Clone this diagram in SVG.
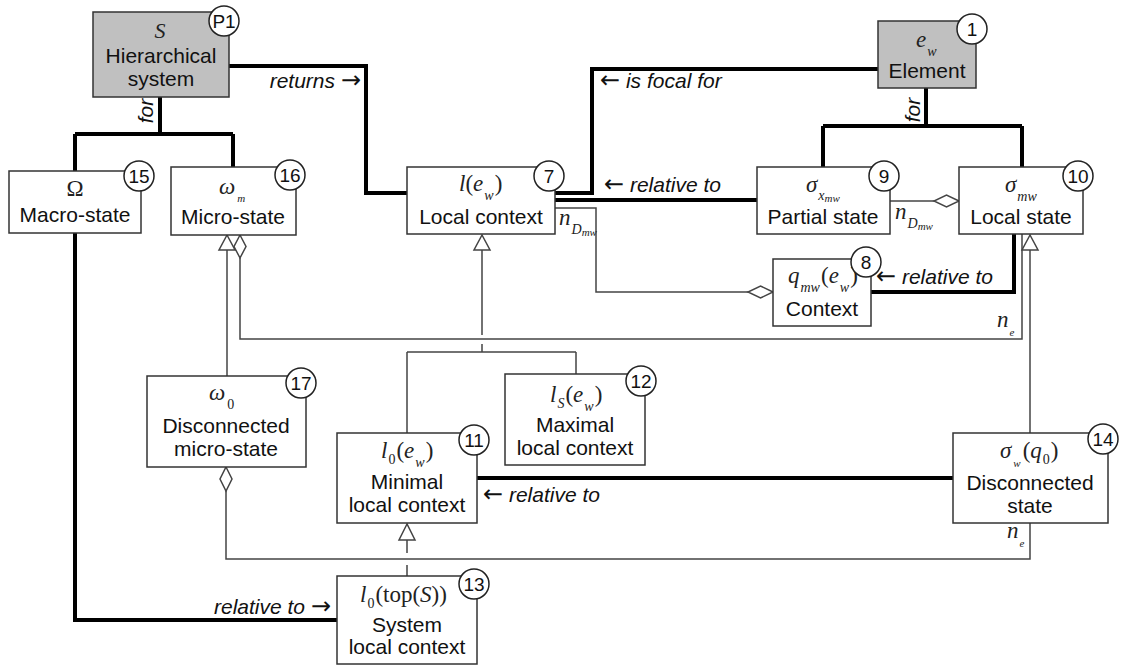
<svg xmlns="http://www.w3.org/2000/svg" width="1135" height="668" viewBox="0 0 1135 668">
<style>
.box{fill:#fff;stroke:#333;stroke-width:1.5}
.gray{fill:#c0c0c0}
.badge{fill:#fff;stroke:#222;stroke-width:1.5}
.bt{font-family:"Liberation Sans",Arial,sans-serif;font-size:19px;fill:#111;text-anchor:middle}
.t{font-family:"Liberation Sans",Arial,sans-serif;font-size:21px;fill:#111;text-anchor:middle}
.m{font-family:"Liberation Serif","Times New Roman",serif;font-size:23px;font-style:italic;fill:#222}
.mc{text-anchor:middle}
.up{font-style:normal}
.sb{font-size:14px}
.ss{font-size:11px}
.lb{font-family:"Liberation Sans",Arial,sans-serif;font-size:21px;font-style:italic;fill:#111}
.ar{font-family:"DejaVu Sans",sans-serif;font-style:normal;font-size:24px}
.thick{fill:none;stroke:#000;stroke-width:4}
.thin{fill:none;stroke:#444;stroke-width:1.5}
.tri{fill:#fff;stroke:#444;stroke-width:1.5}
</style>

<g id="connectors">
  <path class="thick" d="M160,97 V134 M75,134 H233 M75,134 V171 M233,134 V167"/>
  <path class="thick" d="M229,66 H366 V193 H407"/>
  <path class="thick" d="M878,69 H592 V193 H555"/>
  <path class="thick" d="M555,200 H757"/>
  <path class="thick" d="M926,88 V126 M823,126 H1022 M823,126 V167 M1022,126 V167"/>
  <path class="thick" d="M1014,234 V292 H871"/>
  <path class="thick" d="M477,478 H953"/>
  <path class="thick" d="M75,233 V620 H337"/>
  <path class="thin" d="M227,250 V376"/>
  <polygon class="tri" points="227,235 219,250 235,250"/>
  <path class="thin" d="M482,250 V335 M482,344 V352 M407,352 H576 M407,352 V433 M576,352 V374"/>
  <polygon class="tri" points="482,235 474,250 490,250"/>
  <path class="thin" d="M407,540 V553 M407,565 V576"/>
  <polygon class="tri" points="407,524 399,540 415,540"/>
  <path class="thin" d="M1030,250 V433"/>
  <polygon class="tri" points="1030,235 1022,250 1038,250"/>
  <path class="thin" d="M240,258 V339 H1022 V234"/>
  <polygon class="tri" points="240,235 246,246.5 240,258 234,246.5"/>
  <path class="thin" d="M226,491 V559 H1030 V523"/>
  <polygon class="tri" points="226,467 232,479 226,491 220,479"/>
  <path class="thin" d="M890,201 H934"/>
  <polygon class="tri" points="959,201 946.5,195 934,201 946.5,207"/>
  <path class="thin" d="M555,208 H596 V292 H748"/>
  <polygon class="tri" points="773,292 760.5,286 748,292 760.5,298"/>
  <text class="lb" x="361" y="88" text-anchor="end">returns <tspan class="ar">→</tspan></text>
  <text class="lb" x="600" y="88"><tspan class="ar">←</tspan> is focal for</text>
  <text class="lb" x="604" y="192"><tspan class="ar">←</tspan> relative to</text>
  <text class="lb" x="876" y="284"><tspan class="ar">←</tspan> relative to</text>
  <text class="lb" x="483" y="502"><tspan class="ar">←</tspan> relative to</text>
  <text class="lb" x="331" y="614" text-anchor="end">relative to <tspan class="ar">→</tspan></text>
  <text class="lb" transform="translate(153,111) rotate(-90)" text-anchor="middle">for</text>
  <text class="lb" transform="translate(920,110) rotate(-90)" text-anchor="middle">for</text>
  <text class="m" x="559" y="225">n<tspan class="sb" dy="9" dx="1">D</tspan><tspan class="ss" dy="2">mw</tspan></text>
  <text class="m" x="895" y="219">n<tspan class="sb" dy="9" dx="1">D</tspan><tspan class="ss" dy="2">mw</tspan></text>
  <text class="m" x="997" y="327">n<tspan class="ss" dy="9" dx="1">e</tspan></text>
  <text class="m" x="1007" y="538">n<tspan class="ss" dy="9" dx="1">e</tspan></text>
</g>

<g id="node-P1">
  <rect class="box gray" x="93" y="12" width="136" height="85"/>
  <text class="m mc" x="160" y="38" style="font-size:22px">S</text>
  <text class="t" x="161" y="63">Hierarchical</text>
  <text class="t" x="161" y="86">system</text>
  <circle class="badge gray" cx="224" cy="21" r="15"/>
  <text class="bt" x="224" y="28">P1</text>
</g>

<g id="node-1">
  <rect class="box gray" x="878" y="21" width="98" height="67"/>
  <text class="m" x="916" y="47">e<tspan class="sb" dy="9" dx="1">w</tspan></text>
  <text class="t" x="927" y="78">Element</text>
  <circle class="badge" cx="972" cy="29" r="15"/>
  <text class="bt" x="972" y="36">1</text>
</g>

<g id="node-15">
  <rect class="box" x="9" y="171" width="132" height="62"/>
  <text class="m mc up" x="75" y="196">Ω</text>
  <text class="t" x="75" y="222">Macro-state</text>
  <circle class="badge" cx="139" cy="176" r="15"/>
  <text class="bt" x="139" y="183">15</text>
</g>

<g id="node-16">
  <rect class="box" x="171" y="167" width="125" height="68"/>
  <text class="m" x="219" y="194">ω<tspan class="ss" dy="8" dx="2">m</tspan></text>
  <text class="t" x="233" y="224">Micro-state</text>
  <circle class="badge" cx="290" cy="175" r="15"/>
  <text class="bt" x="290" y="182">16</text>
</g>

<g id="node-7">
  <rect class="box" x="407" y="167" width="148" height="67"/>
  <text class="m" x="459" y="191">l<tspan class="up">(</tspan>e<tspan class="sb" dy="9" dx="1">w</tspan><tspan class="up" dy="-9" dx="1">)</tspan></text>
  <text class="t" x="481" y="224">Local context</text>
  <circle class="badge" cx="549" cy="176" r="15"/>
  <text class="bt" x="549" y="183">7</text>
</g>

<g id="node-9">
  <rect class="box" x="757" y="167" width="133" height="67"/>
  <text class="m" x="806" y="192">σ<tspan class="sb" dy="8" dx="1">x</tspan><tspan class="ss" dy="2">mw</tspan></text>
  <text class="t" x="823" y="224">Partial state</text>
  <circle class="badge" cx="884" cy="176" r="15"/>
  <text class="bt" x="884" y="183">9</text>
</g>

<g id="node-10">
  <rect class="box" x="959" y="167" width="124" height="67"/>
  <text class="m" x="1005" y="192">σ<tspan class="sb" dy="9" dx="1">mw</tspan></text>
  <text class="t" x="1021" y="224">Local state</text>
  <circle class="badge" cx="1078" cy="176" r="15"/>
  <text class="bt" x="1078" y="183">10</text>
</g>

<g id="node-8">
  <rect class="box" x="773" y="259" width="98" height="67"/>
  <text class="m" x="788" y="283">q<tspan class="sb" dy="9" dx="1">mw</tspan><tspan class="up" dy="-9" dx="1">(</tspan>e<tspan class="sb" dy="9" dx="1">w</tspan><tspan class="up" dy="-9" dx="1">)</tspan></text>
  <text class="t" x="822" y="316">Context</text>
  <circle class="badge" cx="866" cy="262" r="15"/>
  <text class="bt" x="866" y="269">8</text>
</g>

<g id="node-17">
  <rect class="box" x="147" y="376" width="159" height="91"/>
  <text class="m" x="209" y="400">ω<tspan class="sb up" dy="9" dx="2">0</tspan></text>
  <text class="t" x="226" y="433">Disconnected</text>
  <text class="t" x="226" y="456">micro-state</text>
  <circle class="badge" cx="301" cy="383" r="15"/>
  <text class="bt" x="301" y="390">17</text>
</g>

<g id="node-12">
  <rect class="box" x="505" y="374" width="140" height="91"/>
  <text class="m" x="550" y="402">l<tspan class="sb" dy="6" dx="1">S</tspan><tspan class="up" dy="-6" dx="1">(</tspan>e<tspan class="sb" dy="9" dx="1">w</tspan><tspan class="up" dy="-9" dx="1">)</tspan></text>
  <text class="t" x="575" y="432">Maximal</text>
  <text class="t" x="575" y="455">local context</text>
  <circle class="badge" cx="641" cy="381" r="15"/>
  <text class="bt" x="641" y="388">12</text>
</g>

<g id="node-11">
  <rect class="box" x="337" y="433" width="140" height="90"/>
  <text class="m" x="381" y="458">l<tspan class="sb up" dy="6" dx="1">0</tspan><tspan class="up" dy="-6" dx="1">(</tspan>e<tspan class="sb" dy="9" dx="1">w</tspan><tspan class="up" dy="-9" dx="1">)</tspan></text>
  <text class="t" x="407" y="489">Minimal</text>
  <text class="t" x="407" y="512">local context</text>
  <circle class="badge" cx="474" cy="440" r="15"/>
  <text class="bt" x="474" y="447">11</text>
</g>

<g id="node-14">
  <rect class="box" x="953" y="433" width="155" height="90"/>
  <text class="m" x="1000" y="458">σ<tspan class="ss" dy="9" dx="2">w</tspan><tspan class="up" dy="-9" dx="2">(</tspan>q<tspan class="sb up" dy="6" dx="1">0</tspan><tspan class="up" dy="-6" dx="1">)</tspan></text>
  <text class="t" x="1030" y="490">Disconnected</text>
  <text class="t" x="1030" y="513">state</text>
  <circle class="badge" cx="1103" cy="439" r="15"/>
  <text class="bt" x="1103" y="446">14</text>
</g>

<g id="node-13">
  <rect class="box" x="337" y="576" width="140" height="88"/>
  <text class="m" x="360" y="602">l<tspan class="sb up" dy="6" dx="1">0</tspan><tspan class="up" dy="-6" dx="1">(top(</tspan>S<tspan class="up">))</tspan></text>
  <text class="t" x="407" y="632">System</text>
  <text class="t" x="407" y="654">local context</text>
  <circle class="badge" cx="474" cy="584" r="15"/>
  <text class="bt" x="474" y="591">13</text>
</g>
</svg>
